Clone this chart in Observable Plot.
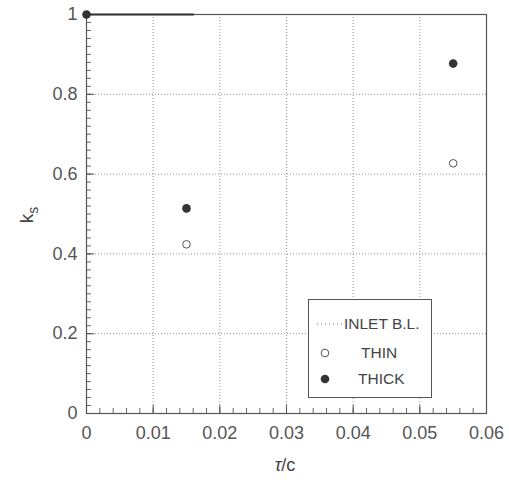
<!DOCTYPE html>
<html><head><meta charset="utf-8">
<script src="https://cdn.jsdelivr.net/npm/d3@7"></script>
<script src="https://cdn.jsdelivr.net/npm/@observablehq/plot@0.6"></script>
<style>
body{margin:0;background:#fff;font-family:"Liberation Sans",Arial,sans-serif;}
#wrap{position:relative;width:509px;height:480px;}
.lab{position:absolute;color:#444;font-family:"Liberation Sans",Arial,sans-serif;}
#legend{position:absolute;left:308px;top:299px;width:124px;height:99px;border:1px solid #555;background:#fff;box-sizing:border-box;}
.row{position:absolute;left:0;width:124px;height:20px;}
.row svg{position:absolute;left:4px;top:0;}
.row span{position:absolute;font-size:15.5px;color:#444;top:1px;}
</style></head>
<body><div id="wrap"></div>
<script>
const thinX = [0.015, 0.055];
const thinKs = [0.424, 0.627];
const thickX = [0, 0.015, 0.055];
const thickKs = [1.0, 0.514, 0.877];
const inletX = [0, 0.016];
const inletKs = [1.0, 1.0];
const xMajor = [0, 0.01, 0.02, 0.03, 0.04, 0.05, 0.06];
const xLabels = ["0", "0.01", "0.02", "0.03", "0.04", "0.05", "0.06"];
const yMajor = [0, 0.2, 0.4, 0.6, 0.8, 1];
const yLabels = ["0", "0.2", "0.4", "0.6", "0.8", "1"];
const xMinor = d3.range(0, 61, 2).map(v => v / 1000);
const yMinor = d3.range(0, 51).map(v => v / 50);

const thin = thinX.map((x, i) => ({x, y: thinKs[i]}));
const thick = thickX.map((x, i) => ({x, y: thickKs[i]}));
const inlet = inletX.map((x, i) => ({x, y: inletKs[i]}));

const chart = Plot.plot({
  width: 509, height: 480,
  marginLeft: 86, marginRight: 23, marginTop: 14, marginBottom: 67,
  style: {fontFamily: "Liberation Sans, Arial, sans-serif", background: "#fff"},
  x: {domain: [0, 0.06], label: null},
  y: {domain: [0, 1], label: null},
  marks: [
    Plot.gridX(xMajor, {stroke: "#777", strokeOpacity: 0.8, strokeDasharray: "1,2"}),
    Plot.gridY(yMajor, {stroke: "#777", strokeOpacity: 0.8, strokeDasharray: "1,2"}),
    Plot.axisX(xMinor, {tickSize: 5, dy: -5, text: null, stroke: "#666", label: null}),
    Plot.axisX(xMajor, {tickSize: 8, dy: -8, text: null, stroke: "#555", label: null}),
    Plot.axisX(xMajor, {tickSize: 0, tickPadding: 13, tickFormat: (d, i) => xLabels[i], fontSize: 18, fill: "#555", label: null}),
    Plot.axisY(yMinor, {tickSize: 5, dx: 5, text: null, stroke: "#666", label: null}),
    Plot.axisY(yMajor, {tickSize: 8, dx: 8, text: null, stroke: "#555", label: null}),
    Plot.axisY(yMajor, {tickSize: 0, tickPadding: 9, tickFormat: (d, i) => yLabels[i], fontSize: 18, fill: "#555", label: null}),
    Plot.frame({stroke: "#555", strokeWidth: 1.2}),
    Plot.line(inlet, {x: "x", y: "y", stroke: "#333", strokeWidth: 2.2}),
    Plot.dot(thin, {x: "x", y: "y", r: 3.8, stroke: "#555", fill: "#fff", strokeWidth: 1}),
    Plot.dot(thick, {x: "x", y: "y", r: 4.3, fill: "#333", stroke: "none"})
  ]
});
const wrap = document.getElementById("wrap");
wrap.appendChild(chart);

const yl = document.createElement("div");
yl.className = "lab";
yl.style.cssText = "left:2px;top:203px;width:50px;text-align:center;font-size:19px;transform:rotate(-90deg);transform-origin:25px 12px;line-height:24px;";
yl.innerHTML = 'k<sub style="font-size:14px;vertical-align:-5px">s</sub>';
wrap.appendChild(yl);

const xl = document.createElement("div");
xl.className = "lab";
xl.style.cssText = "left:255px;top:455px;width:60px;text-align:center;font-size:18px;";
xl.innerHTML = '<i>τ</i>/c';
wrap.appendChild(xl);

const lg = document.createElement("div");
lg.id = "legend";
lg.innerHTML = `
<div class="row" style="top:14px"><svg width="32" height="20"><line x1="4" y1="10" x2="30" y2="10" stroke="#777" stroke-dasharray="1,3"/></svg><span style="left:35px">INLET B.L.</span></div>
<div class="row" style="top:43px"><svg width="32" height="20"><circle cx="12" cy="10" r="3.8" fill="#fff" stroke="#555"/></svg><span style="left:52px">THIN</span></div>
<div class="row" style="top:69px"><svg width="32" height="20"><circle cx="12" cy="10" r="4.3" fill="#333"/></svg><span style="left:49px">THICK</span></div>`;
wrap.appendChild(lg);
</script></body></html>
